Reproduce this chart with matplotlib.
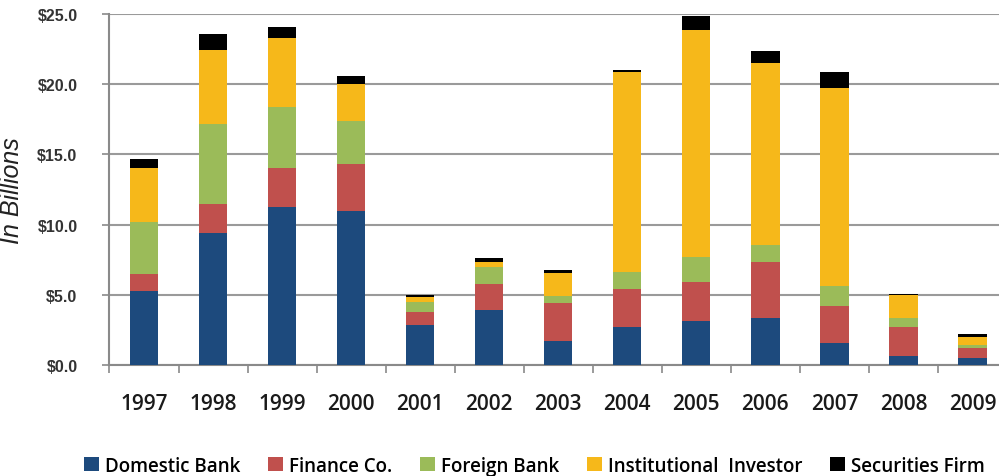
import matplotlib
matplotlib.use("Agg")

import numpy as np
import matplotlib.pyplot as plt
from matplotlib.ticker import FixedLocator, FuncFormatter

# Data (in billions)
years = ["1997", "1998", "1999", "2000", "2001", "2002", "2003",
         "2004", "2005", "2006", "2007", "2008", "2009"]
domestic_bank = [5.25, 9.38, 11.23, 11.0, 2.85, 3.92, 1.71, 2.7, 3.13, 3.38, 1.56, 0.64, 0.48]
finance_co = [1.22, 2.09, 2.77, 3.34, 0.93, 1.88, 2.73, 2.71, 2.78, 3.99, 2.62, 2.06, 0.76]
foreign_bank = [3.73, 5.7, 4.4, 3.06, 0.74, 1.18, 0.47, 1.24, 1.81, 1.2, 1.42, 0.68, 0.19]
institutional = [3.8, 5.29, 4.87, 2.6, 0.34, 0.38, 1.62, 14.25, 16.14, 12.91, 14.1, 1.58, 0.57]
securities_firm = [0.7, 1.14, 0.83, 0.6, 0.14, 0.24, 0.24, 0.13, 1.02, 0.92, 1.14, 0.12, 0.2]

series = [
    ("Domestic Bank", domestic_bank, "#1d4a7d"),
    ("Finance Co.", finance_co, "#c0504d"),
    ("Foreign Bank", foreign_bank, "#9bbb59"),
    ("Institutional  Investor", institutional, "#f6b81a"),
    ("Securities Firm", securities_firm, "#000000"),
]

fig = plt.figure(figsize=(9.99, 4.77), dpi=100)
ax = fig.add_axes([0.1096, 0.2327, 0.8984, 0.7358])

x = np.arange(len(years))
bottom = np.zeros(len(years))
for name, vals, color in series:
    ax.bar(x, vals, width=0.41, bottom=bottom, color=color, label=name, zorder=3)
    bottom += np.array(vals)

ax.set_xlim(-0.5, len(years) - 0.5)
ax.set_ylim(0, 25)
ax.set_yticks([0, 5, 10, 15, 20, 25])
ax.yaxis.set_major_formatter(FuncFormatter(lambda v, p: f"${v:.1f}"))
ax.grid(axis="y", color="#9a9a9a", linewidth=1.5, zorder=0)

# Excel-style ticks at category boundaries, labels centered
ax.set_xticks(x)
ax.set_xticklabels(years, fontfamily="Open Sans", fontsize=15, color="#1a1a1a",
                   fontweight="semibold")
ax.tick_params(axis="x", which="major", length=0, pad=20)
ax.xaxis.set_minor_locator(FixedLocator(np.arange(-0.5, len(years), 1)))
ax.tick_params(axis="x", which="minor", length=6, width=1.2, color="#8a8a8a", direction="out")
ax.tick_params(axis="y", length=5, width=1.2, color="#8a8a8a", pad=18, labelsize=11.5,
               labelcolor="#333333")
for lbl in ax.get_yticklabels():
    lbl.set_fontfamily("Liberation Sans")
    lbl.set_fontweight("bold")

for side in ["top", "right"]:
    ax.spines[side].set_visible(False)
ax.spines["left"].set_color("#8a8a8a")
ax.spines["left"].set_linewidth(1.5)
ax.spines["bottom"].set_color("#8a8a8a")
ax.spines["bottom"].set_linewidth(1.5)

ax.set_ylabel("In Billions", fontfamily="Liberation Sans", fontstyle="italic",
              fontsize=18, color="#222222", labelpad=2)
ax.yaxis.set_label_coords(-0.095, 0.5)

fig.legend(loc="center", bbox_to_anchor=(0.535, 0.022), ncol=5, frameon=False,
           prop={"family": "Open Sans", "size": 13.5, "weight": "semibold"},
           handlelength=0.8, handleheight=0.8, handletextpad=0.3, columnspacing=1.5)

fig.savefig("out.png", dpi=100)
